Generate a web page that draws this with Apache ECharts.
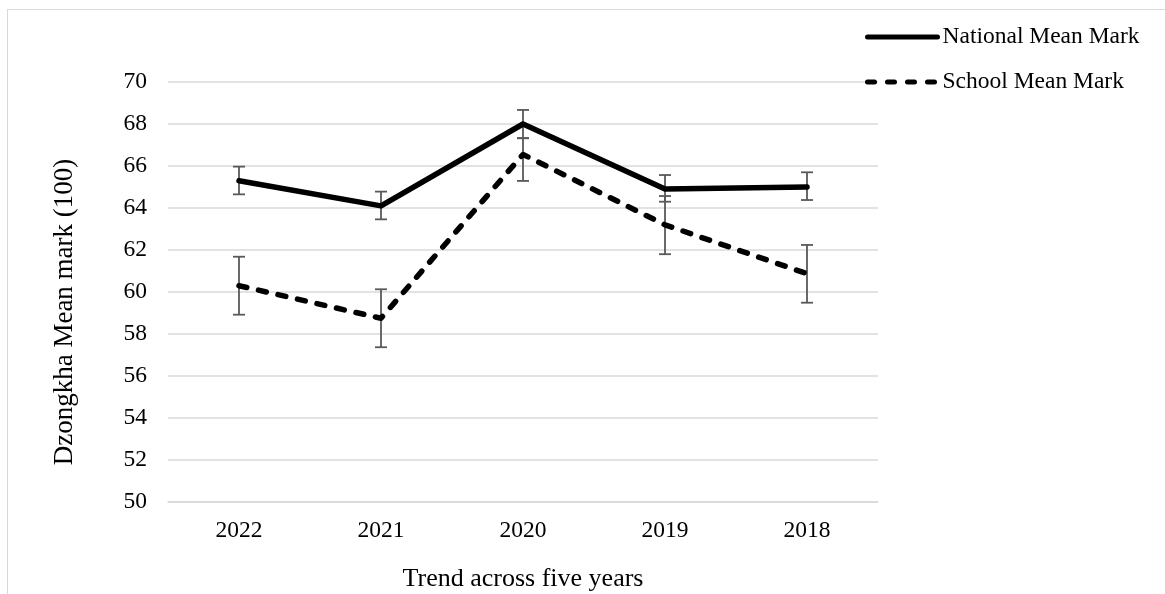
<!DOCTYPE html>
<html>
<head>
<meta charset="utf-8">
<script src="https://cdn.jsdelivr.net/npm/echarts@6/dist/echarts.min.js"></script>
<style>
  html, body { margin: 0; padding: 0; background: #fff; }
  #frame { position: absolute; left: 7px; top: 9px; width: 1200px; height: 640px; border: 1.5px solid #d9d9d9; }
  #chart { position: absolute; left: 0; top: 0; width: 1165px; height: 594px; }
</style>
</head>
<body>
<div id="frame"></div>
<div id="chart"></div>
<script>
  // 年份（横轴类目）
  const years = ['2022', '2021', '2020', '2019', '2018']
  // 全国平均分 + 误差上下限
  const nationalMean = [65.3, 64.1, 68.0, 64.9, 65.0]
  const nationalHigh = [65.97, 64.78, 68.67, 65.57, 65.7]
  const nationalLow = [64.65, 63.46, 67.32, 64.3, 64.38]
  // 学校平均分 + 误差上下限
  const schoolMean = [60.3, 58.75, 66.55, 63.2, 60.87]
  const schoolHigh = [61.68, 60.13, 67.33, 64.57, 62.24]
  const schoolLow = [58.92, 57.37, 65.29, 61.8, 59.49]

  const font = '"Liberation Serif", "Times New Roman", serif'
  const dash = [8, 12]

  function errData(high, low) {
    return years.map((y, i) => [i, high[i], low[i]])
  }

  // 误差线
  function renderErr(params, api) {
    const top = api.coord([api.value(0), api.value(1)])
    const bot = api.coord([api.value(0), api.value(2)])
    const x = top[0], half = 6
    const style = { stroke: '#595959', lineWidth: 1.8 }
    return {
      type: 'group',
      children: [
        { type: 'line', shape: { x1: x, y1: top[1], x2: x, y2: bot[1] }, style },
        { type: 'line', shape: { x1: x - half, y1: top[1], x2: x + half, y2: top[1] }, style },
        { type: 'line', shape: { x1: x - half, y1: bot[1], x2: x + half, y2: bot[1] }, style }
      ]
    }
  }

  let myChart = echarts.init(document.getElementById('chart'))
  myChart.setOption({
    animation: false,
    textStyle: { fontFamily: font },
    grid: { left: 168, right: 287, top: 82, bottom: 92, outerBoundsMode: 'none' },
    legend: {
      orient: 'vertical',
      left: 865,
      top: 25,
      padding: 0,
      itemWidth: 70,
      itemHeight: 24,
      itemGap: 21,
      itemStyle: { opacity: 0 },
      data: [
        { name: 'National Mean Mark', lineStyle: { width: 5, cap: 'round' } },
        { name: 'School Mean Mark', lineStyle: { width: 5, type: [7, 13], cap: 'round' } }
      ],
      textStyle: { fontFamily: font, fontSize: 23.5, color: '#000' }
    },
    xAxis: {
      type: 'category',
      data: years,
      boundaryGap: true,
      axisLine: { lineStyle: { color: '#d9d9d9', width: 1.5 } },
      axisTick: { show: false },
      axisLabel: { fontFamily: font, fontSize: 23.5, color: '#000', margin: 17 },
      name: 'Trend across five years',
      nameLocation: 'middle',
      nameGap: 64,
      nameTextStyle: { fontFamily: font, fontSize: 26, color: '#000' }
    },
    yAxis: {
      type: 'value',
      min: 50,
      max: 70,
      interval: 2,
      axisLine: { show: false },
      axisTick: { show: false },
      splitLine: { lineStyle: { color: '#d9d9d9', width: 1.5 } },
      axisLabel: { fontFamily: font, fontSize: 23.5, color: '#000', margin: 21 },
      name: 'Dzongkha Mean mark (100)',
      nameLocation: 'middle',
      nameGap: 90,
      nameTextStyle: { fontFamily: font, fontSize: 27, color: '#000', padding: [0, 40, 0, 0] }
    },
    series: [
      {
        type: 'custom',
        name: 'nationalErr',
        renderItem: renderErr,
        data: errData(nationalHigh, nationalLow),
        z: 1
      },
      {
        type: 'custom',
        name: 'schoolErr',
        renderItem: renderErr,
        data: errData(schoolHigh, schoolLow),
        z: 1
      },
      {
        name: 'National Mean Mark',
        type: 'line',
        symbol: 'none',
        data: nationalMean,
        lineStyle: { color: '#000', width: 5.5, cap: 'round', join: 'round' },
        itemStyle: { color: '#000' },
        z: 3
      },
      {
        name: 'School Mean Mark',
        type: 'line',
        symbol: 'none',
        data: schoolMean,
        lineStyle: { color: '#000', width: 5.5, type: dash, cap: 'round', join: 'round' },
        itemStyle: { color: '#000' },
        z: 3
      }
    ]
  })
</script>
</body>
</html>
